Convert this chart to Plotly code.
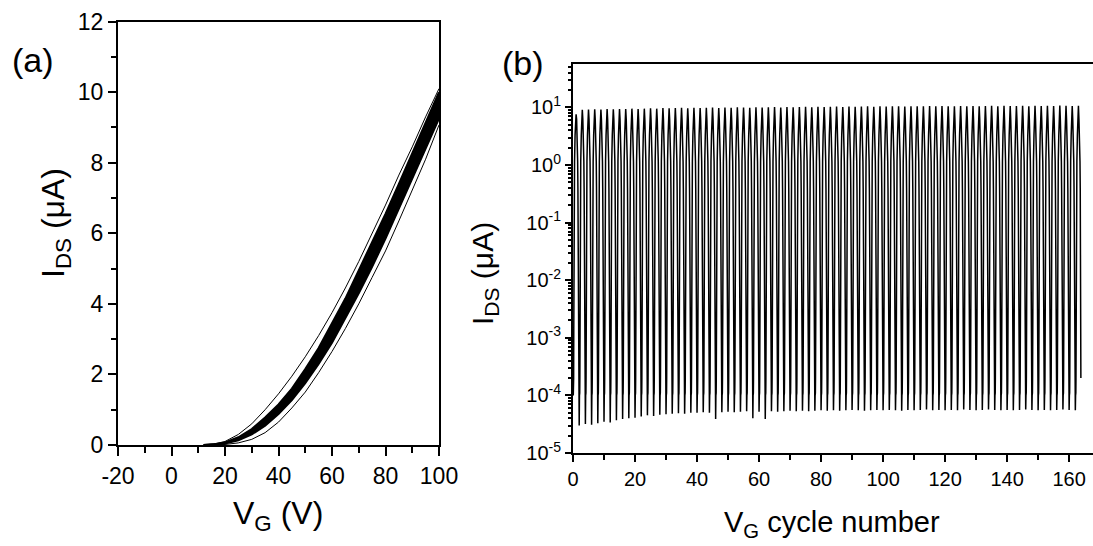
import plotly.graph_objects as go

W, H = 1093, 546
FONT = "Liberation Sans, Arial, sans-serif"

# ---------------- Panel (a): transfer curves ----------------
vg_a = [12, 16, 20, 25, 30, 35, 40, 45, 50, 55, 60, 65, 70, 75, 80, 85, 90, 95, 100]
ids_top = [0, 0.03, 0.1, 0.3, 0.6, 1.0, 1.45, 1.95, 2.5, 3.1, 3.75, 4.45, 5.2, 6.0, 6.8, 7.65, 8.45, 9.3, 10.1]
ids_band_hi = [0, 0.02, 0.07, 0.22, 0.45, 0.78, 1.15, 1.6, 2.15, 2.75, 3.45, 4.15, 4.95, 5.75, 6.55, 7.4, 8.25, 9.15, 10.0]
ids_band_lo = [0, 0.01, 0.04, 0.13, 0.3, 0.55, 0.88, 1.27, 1.75, 2.3, 2.9, 3.6, 4.3, 5.05, 5.85, 6.7, 7.55, 8.4, 9.25]
ids_bottom = [0, 0, 0.015, 0.06, 0.16, 0.35, 0.65, 1.05, 1.5, 2.05, 2.65, 3.3, 4.0, 4.75, 5.5, 6.35, 7.2, 8.1, 9.07]

xt_a = [-20, 0, 20, 40, 60, 80, 100]
xt_a_text = ["-20", "0", "20", "40", "60", "80", "100"]
yt_a = [0, 2, 4, 6, 8, 10, 12]

# ---------------- Panel (b): cycling ----------------
sweep_vg = [-20, -10, 0, 5, 10, 15, 20, 30, 40, 60, 80, 100]
sweep_ids = [5e-5, 1.0e-4, 1.1e-4, 2.0e-4, 1.5e-3, 1.2e-2, 6.0e-2, 0.4, 1.15, 3.3, 6.2, 9.6]

cycle_peak = [7.6, 9.1, 9.2, 9.3, 9.2, 9.4, 9.3, 9.4, 9.4, 9.5, 9.4,
              9.5, 9.6, 9.5, 9.7, 9.6, 9.7, 9.8, 9.6, 9.8, 9.7,
              9.8, 9.9, 9.7, 9.9, 9.8, 10.0, 9.9, 9.8, 10.0, 9.9,
              10.0, 10.1, 9.9, 10.1, 10.0, 10.1, 10.2, 10.0, 10.2, 10.1,
              10.2, 10.3, 10.1, 10.3, 10.2, 10.3, 10.4, 10.2, 10.4, 10.3,
              10.4, 10.5, 10.3, 10.5, 10.4, 10.5, 10.6, 10.4, 10.6, 10.5,
              10.5, 10.6, 10.4, 10.6, 10.5, 10.6, 10.7, 10.5, 10.7, 10.6,
              10.6, 10.7, 10.5, 10.7, 10.6, 10.7, 10.6, 10.8, 10.7, 10.6, 10.7]
cycle_floor = [7e-4, 3.0e-5, 3.2e-5, 3.1e-5, 3.3e-5, 3.5e-5, 3.4e-5, 3.7e-5, 3.9e-5, 4.0e-5, 4.1e-5,
               4.3e-5, 4.5e-5, 4.4e-5, 4.6e-5, 4.7e-5, 4.8e-5, 4.9e-5, 4.8e-5, 5.0e-5, 5.0e-5,
               5.1e-5, 5.0e-5, 3.9e-5, 5.1e-5, 5.2e-5, 5.1e-5, 5.2e-5, 5.3e-5, 4.0e-5, 5.2e-5,
               3.9e-5, 5.3e-5, 5.2e-5, 5.3e-5, 5.4e-5, 5.3e-5, 5.4e-5, 5.3e-5, 5.4e-5, 5.5e-5,
               5.4e-5, 5.5e-5, 5.4e-5, 5.5e-5, 5.6e-5, 5.5e-5, 5.4e-5, 5.5e-5, 5.6e-5, 5.5e-5,
               5.6e-5, 5.5e-5, 5.4e-5, 5.6e-5, 5.5e-5, 5.6e-5, 5.7e-5, 5.5e-5, 5.6e-5, 5.5e-5,
               5.6e-5, 5.5e-5, 5.7e-5, 5.6e-5, 5.5e-5, 5.6e-5, 5.7e-5, 5.6e-5, 5.5e-5, 5.6e-5,
               5.5e-5, 5.6e-5, 5.7e-5, 5.6e-5, 5.5e-5, 5.6e-5, 5.5e-5, 5.6e-5, 5.7e-5, 5.6e-5, 5.5e-5]
x_end_b = 163.8

xt_b = [0, 20, 40, 60, 80, 100, 120, 140, 160]
yt_b = [1e-5, 1e-4, 1e-3, 1e-2, 1e-1, 1e0, 1e1]
yt_b_text = ["10<sup>-5</sup>", "10<sup>-4</sup>", "10<sup>-3</sup>", "10<sup>-2</sup>",
             "10<sup>-1</sup>", "10<sup>0</sup>", "10<sup>1</sup>"]

# build cycling trace from the per-cycle values and the sweep shape
xb, yb = [], []
n = len(cycle_peak)
for k in range(n):
    for j, v in enumerate(sweep_vg):
        x = 2 * k + (v + 20) / 120.0
        if j == 0:
            y = cycle_floor[k]
        elif j == len(sweep_vg) - 1:
            y = cycle_peak[k]
        else:
            y = sweep_ids[j]
        xb.append(x); yb.append(y)
    rev_v = sweep_vg[::-1][1:]
    rev_i = sweep_ids[::-1][1:]
    for j, v in enumerate(rev_v):
        x = 2 * k + 1 + (100 - v) / 120.0
        if j == len(rev_v) - 1 and k + 1 < n:
            continue
        if x > x_end_b:
            break
        xb.append(x); yb.append(rev_i[j])

fig = go.Figure()

fig.add_trace(go.Scatter(x=vg_a, y=ids_bottom, mode="lines", line=dict(color="black", width=1),
                         xaxis="x", yaxis="y"))
fig.add_trace(go.Scatter(x=vg_a, y=ids_band_lo, mode="lines", line=dict(color="black", width=2),
                         xaxis="x", yaxis="y"))
fig.add_trace(go.Scatter(x=vg_a, y=ids_band_hi, mode="lines", line=dict(color="black", width=2),
                         fill="tonexty", fillcolor="black", xaxis="x", yaxis="y"))
fig.add_trace(go.Scatter(x=vg_a, y=ids_top, mode="lines", line=dict(color="black", width=1),
                         xaxis="x", yaxis="y"))

fig.add_trace(go.Scatter(x=xb, y=yb, mode="lines", line=dict(color="black", width=1.5),
                         xaxis="x2", yaxis="y2"))

def px(x):
    return x / W

def py(y):
    return 1 - y / H

tickfont_a = dict(family=FONT, size=23, color="black")
tickfont_b = dict(family=FONT, size=20, color="black")

common = dict(showline=True, linewidth=2, linecolor="black", showgrid=False, zeroline=False,
              automargin=False, ticks="outside", tickwidth=2, tickcolor="black")

fig.update_layout(
    width=W, height=H,
    margin=dict(l=0, r=0, t=0, b=0),
    paper_bgcolor="white", plot_bgcolor="white",
    showlegend=False,
    xaxis=dict(domain=[px(118), px(439)], range=[-20, 100], anchor="y",
               tickmode="array", tickvals=xt_a, ticktext=xt_a_text, ticklen=9,
               mirror=True, tickfont=tickfont_a,
               minor=dict(tickmode="array", tickvals=[-10, 10, 30, 50, 70, 90],
                          ticks="outside", ticklen=6, tickwidth=2, tickcolor="black"),
               **common),
    yaxis=dict(domain=[py(445), py(21.6)], range=[0, 12], anchor="x",
               tickmode="array", tickvals=yt_a, ticklen=8,
               mirror=True, tickfont=tickfont_a,
               minor=dict(tickmode="array", tickvals=[1, 3, 5, 7, 9, 11],
                          ticks="outside", ticklen=5, tickwidth=2, tickcolor="black"),
               **common),
    xaxis2=dict(domain=[px(573), 1.0], range=[0, 167.7], anchor="y2",
                tickmode="array", tickvals=xt_b, ticklen=7,
                mirror=True, tickfont=tickfont_b,
                minor=dict(tickmode="array", tickvals=[10, 30, 50, 70, 90, 110, 130, 150, 170],
                           ticks="outside", ticklen=5, tickwidth=2, tickcolor="black"),
                **common),
    yaxis2=dict(domain=[py(453), py(64)], type="log", range=[-5, 1.753], anchor="x2",
                tickmode="array", tickvals=yt_b, ticktext=yt_b_text, ticklen=6,
                mirror=False, tickfont=tickfont_b,
                minor=dict(tickmode="array",
                           tickvals=[m * 10 ** e for e in range(-5, 2) for m in range(2, 10)],
                           ticks="outside", ticklen=3, tickwidth=1.5, tickcolor="black"),
                **common),
)

ann_font = lambda s: dict(family=FONT, size=s, color="black")
annotations = [
    dict(text="(a)", x=px(33), y=py(60), font=ann_font(34)),
    dict(text="(b)", x=px(523), y=py(63), font=ann_font(34)),
    dict(text="I<sub>DS</sub> (μA)", x=px(55), y=py(223), textangle=-90, font=ann_font(32)),
    dict(text="V<sub>G</sub> (V)", x=px(278), y=py(515), font=ann_font(32)),
    dict(text="I<sub>DS</sub> (μA)", x=px(484), y=py(274), textangle=-90, font=ann_font(30)),
    dict(text="V<sub>G</sub> cycle number", x=px(832), y=py(524), font=ann_font(29)),
]
for a in annotations:
    a.update(xref="paper", yref="paper", showarrow=False, xanchor="center", yanchor="middle")
fig.update_layout(annotations=annotations)

fig.write_html("out.html")
